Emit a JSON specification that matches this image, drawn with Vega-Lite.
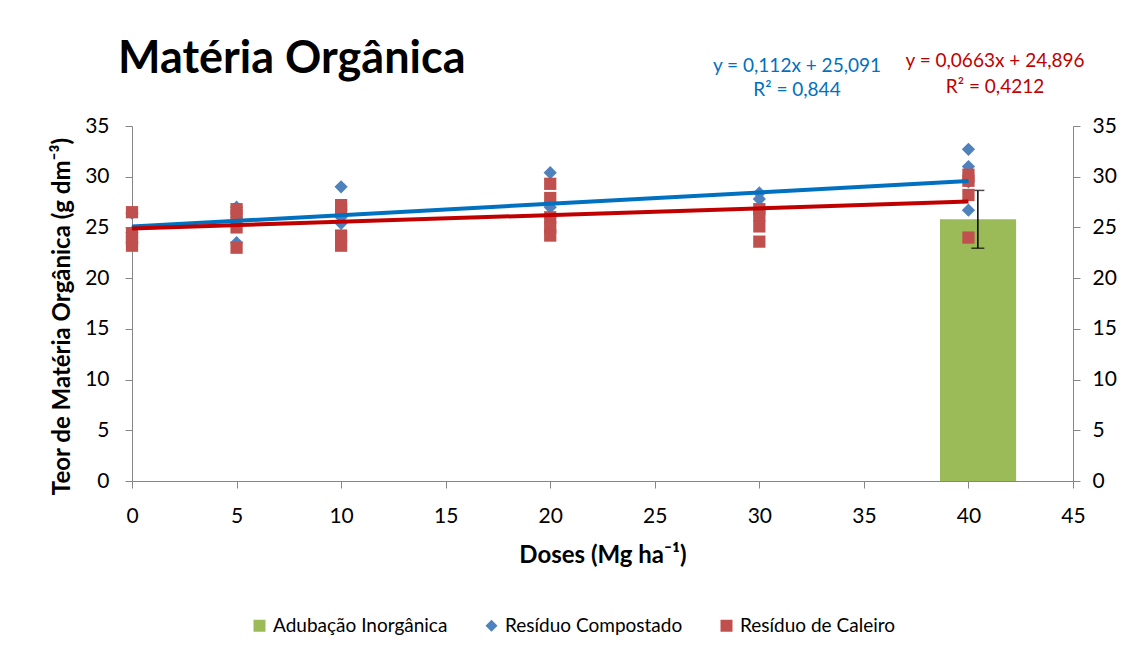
{
  "$schema": "https://vega.github.io/schema/vega-lite/v6.json",
  "width": 941,
  "height": 355,
  "autosize": "none",
  "padding": {"left": 132, "top": 126, "right": 55, "bottom": 172},
  "background": "white",
  "config": {
    "font": "Lato",
    "view": {"stroke": null},
    "axis": {"labelFont": "Lato", "titleFont": "Lato", "labelColor": "#000000", "titleColor": "#000000", "domainColor": "#868686", "tickColor": "#868686", "grid": false, "labelFontSize": 21, "titleFontSize": 24, "titleFontWeight": "bold", "tickSize": 7, "labelFlush": false}
  },
  "title": {"text": "Matéria Orgânica", "anchor": "start", "frame": "group", "dx": -14, "fontSize": 45, "fontWeight": "bold", "font": "Lato", "color": "#000000", "baseline": "alphabetic", "offset": -66},
  "datasets": {
    "pts": [
      {"serie": "Resíduo Compostado", "dose": 0, "teor": 23.5},
      {"serie": "Resíduo Compostado", "dose": 0, "teor": 24.5},
      {"serie": "Resíduo Compostado", "dose": 0, "teor": 26.4},
      {"serie": "Resíduo Compostado", "dose": 5, "teor": 27.0},
      {"serie": "Resíduo Compostado", "dose": 5, "teor": 26.0},
      {"serie": "Resíduo Compostado", "dose": 5, "teor": 23.5},
      {"serie": "Resíduo Compostado", "dose": 10, "teor": 29.0},
      {"serie": "Resíduo Compostado", "dose": 10, "teor": 25.4},
      {"serie": "Resíduo Compostado", "dose": 10, "teor": 26.0},
      {"serie": "Resíduo Compostado", "dose": 20, "teor": 30.4},
      {"serie": "Resíduo Compostado", "dose": 20, "teor": 27.0},
      {"serie": "Resíduo Compostado", "dose": 20, "teor": 27.5},
      {"serie": "Resíduo Compostado", "dose": 30, "teor": 28.4},
      {"serie": "Resíduo Compostado", "dose": 30, "teor": 27.8},
      {"serie": "Resíduo Compostado", "dose": 40, "teor": 32.7},
      {"serie": "Resíduo Compostado", "dose": 40, "teor": 31.0},
      {"serie": "Resíduo Compostado", "dose": 40, "teor": 29.5},
      {"serie": "Resíduo Compostado", "dose": 40, "teor": 26.7},
      {"serie": "Resíduo de Caleiro", "dose": 0, "teor": 26.5},
      {"serie": "Resíduo de Caleiro", "dose": 0, "teor": 24.4},
      {"serie": "Resíduo de Caleiro", "dose": 0, "teor": 23.8},
      {"serie": "Resíduo de Caleiro", "dose": 0, "teor": 23.2},
      {"serie": "Resíduo de Caleiro", "dose": 5, "teor": 26.8},
      {"serie": "Resíduo de Caleiro", "dose": 5, "teor": 26.2},
      {"serie": "Resíduo de Caleiro", "dose": 5, "teor": 25.0},
      {"serie": "Resíduo de Caleiro", "dose": 5, "teor": 23.0},
      {"serie": "Resíduo de Caleiro", "dose": 10, "teor": 27.2},
      {"serie": "Resíduo de Caleiro", "dose": 10, "teor": 26.7},
      {"serie": "Resíduo de Caleiro", "dose": 10, "teor": 24.2},
      {"serie": "Resíduo de Caleiro", "dose": 10, "teor": 23.2},
      {"serie": "Resíduo de Caleiro", "dose": 20, "teor": 29.3},
      {"serie": "Resíduo de Caleiro", "dose": 20, "teor": 27.9},
      {"serie": "Resíduo de Caleiro", "dose": 20, "teor": 26.0},
      {"serie": "Resíduo de Caleiro", "dose": 20, "teor": 25.0},
      {"serie": "Resíduo de Caleiro", "dose": 20, "teor": 24.2},
      {"serie": "Resíduo de Caleiro", "dose": 30, "teor": 26.8},
      {"serie": "Resíduo de Caleiro", "dose": 30, "teor": 26.2},
      {"serie": "Resíduo de Caleiro", "dose": 30, "teor": 25.1},
      {"serie": "Resíduo de Caleiro", "dose": 30, "teor": 23.6},
      {"serie": "Resíduo de Caleiro", "dose": 40, "teor": 30.2},
      {"serie": "Resíduo de Caleiro", "dose": 40, "teor": 29.6},
      {"serie": "Resíduo de Caleiro", "dose": 40, "teor": 28.2},
      {"serie": "Resíduo de Caleiro", "dose": 40, "teor": 24.0}
    ],
    "bar": [
      {"serie": "Adubação Inorgânica", "x0": 38.64, "x1": 42.28, "teor": 25.8, "xc": 40.45, "lo": 22.95, "hi": 28.65}
    ],
    "trend": [
      {"serie": "Resíduo Compostado", "dose": 0, "teor": 25.091},
      {"serie": "Resíduo Compostado", "dose": 40, "teor": 29.571},
      {"serie": "Resíduo de Caleiro", "dose": 0, "teor": 24.896},
      {"serie": "Resíduo de Caleiro", "dose": 40, "teor": 27.548}
    ],
    "eq": [
      {"serie": "Resíduo Compostado", "x": 31.8, "y": 40.93, "label": "y = 0,112x + 25,091"},
      {"serie": "Resíduo Compostado", "x": 31.8, "y": 38.56, "label": "R² = 0,844"},
      {"serie": "Resíduo de Caleiro", "x": 41.27, "y": 41.42, "label": "y = 0,0663x + 24,896"},
      {"serie": "Resíduo de Caleiro", "x": 41.27, "y": 38.86, "label": "R² = 0,4212"}
    ]
  },
  "layer": [
    {
      "data": {"name": "bar"},
      "mark": {"type": "rect", "color": "#9BBB59"},
      "encoding": {
        "x": {"field": "x0", "type": "quantitative", "scale": {"domain": [0, 45]}, "axis": {"values": [0,5,10,15,20,25,30,35,40,45], "title": "Doses (Mg ha⁻¹)", "labelPadding": 17, "titlePadding": 17}},
        "x2": {"field": "x1"},
        "y": {"field": "teor", "type": "quantitative", "scale": {"domain": [0, 35]}, "axis": {"orient": "left", "values": [0,5,10,15,20,25,30,35], "title": "Teor de Matéria Orgânica (g dm⁻³)", "labelPadding": 16, "titlePadding": 10, "titleY": 190}},
        "y2": {"datum": 0},
        "color": {"field": "serie", "type": "nominal", "scale": {"domain": ["Adubação Inorgânica", "Resíduo Compostado", "Resíduo de Caleiro"], "range": ["#9BBB59", "#4F81BD", "#C0504D"]}, "legend": {"title": null, "orient": "none", "legendX": 118, "legendY": 490, "direction": "horizontal", "columns": 3, "columnPadding": 34, "labelFontSize": 19, "labelLimit": 0, "labelFont": "Lato", "labelColor": "#000000", "symbolSize": 144, "symbolOpacity": 1, "symbolStrokeWidth": 0}}
      }
    },
    {
      "data": {"name": "bar"},
      "mark": {"type": "rule", "color": "#000000", "strokeWidth": 1.5},
      "encoding": {
        "x": {"field": "xc", "type": "quantitative"},
        "y": {"field": "lo", "type": "quantitative", "axis": null},
        "y2": {"field": "hi"}
      }
    },
    {
      "data": {"name": "bar"},
      "mark": {"type": "tick", "color": "#000000", "orient": "horizontal", "size": 13, "thickness": 1.5},
      "encoding": {
        "x": {"field": "xc", "type": "quantitative"},
        "y": {"field": "lo", "type": "quantitative", "axis": null}
      }
    },
    {
      "data": {"name": "bar"},
      "mark": {"type": "tick", "color": "#000000", "orient": "horizontal", "size": 13, "thickness": 1.5},
      "encoding": {
        "x": {"field": "xc", "type": "quantitative"},
        "y": {"field": "hi", "type": "quantitative", "axis": null}
      }
    },
    {
      "data": {"name": "pts"},
      "mark": {"type": "point", "filled": true, "opacity": 1, "strokeWidth": 0},
      "encoding": {
        "x": {"field": "dose", "type": "quantitative"},
        "y": {"field": "teor", "type": "quantitative", "axis": null},
        "color": {"field": "serie", "type": "nominal"},
        "shape": {"field": "serie", "type": "nominal", "scale": {"domain": ["Adubação Inorgânica", "Resíduo Compostado", "Resíduo de Caleiro"], "range": ["square", "diamond", "square"]}, "legend": {"title": null}},
        "size": {"condition": {"test": "datum.serie === 'Resíduo Compostado'", "value": 175}, "value": 150},
        "order": {"field": "serie", "sort": "ascending"}
      }
    },
    {
      "data": {"name": "trend"},
      "mark": {"type": "line", "strokeWidth": 4},
      "encoding": {
        "x": {"field": "dose", "type": "quantitative"},
        "y": {"field": "teor", "type": "quantitative", "axis": null},
        "detail": {"field": "serie"},
        "stroke": {"field": "serie", "type": "nominal", "scale": {"domain": ["Resíduo Compostado", "Resíduo de Caleiro"], "range": ["#0070C0", "#C00000"]}, "legend": null}
      }
    },
    {
      "data": {"name": "eq"},
      "mark": {"type": "text", "fontSize": 19, "font": "Lato", "align": "center", "baseline": "middle"},
      "encoding": {
        "x": {"field": "x", "type": "quantitative"},
        "y": {"field": "y", "type": "quantitative", "axis": null},
        "text": {"field": "label"},
        "fill": {"field": "serie", "type": "nominal", "scale": {"domain": ["Resíduo Compostado", "Resíduo de Caleiro"], "range": ["#0070C0", "#C00000"]}, "legend": null}
      }
    },
    {
      "data": {"values": [{}]},
      "mark": {"type": "rule", "color": "#868686", "opacity": 0},
      "encoding": {
        "y": {"datum": 0, "type": "quantitative", "axis": {"orient": "right", "values": [0,5,10,15,20,25,30,35], "title": null, "labelPadding": 12}}
      }
    }
  ],
  "resolve": {"scale": {"fill": "independent", "stroke": "independent"}, "axis": {"y": "independent"}}
}
